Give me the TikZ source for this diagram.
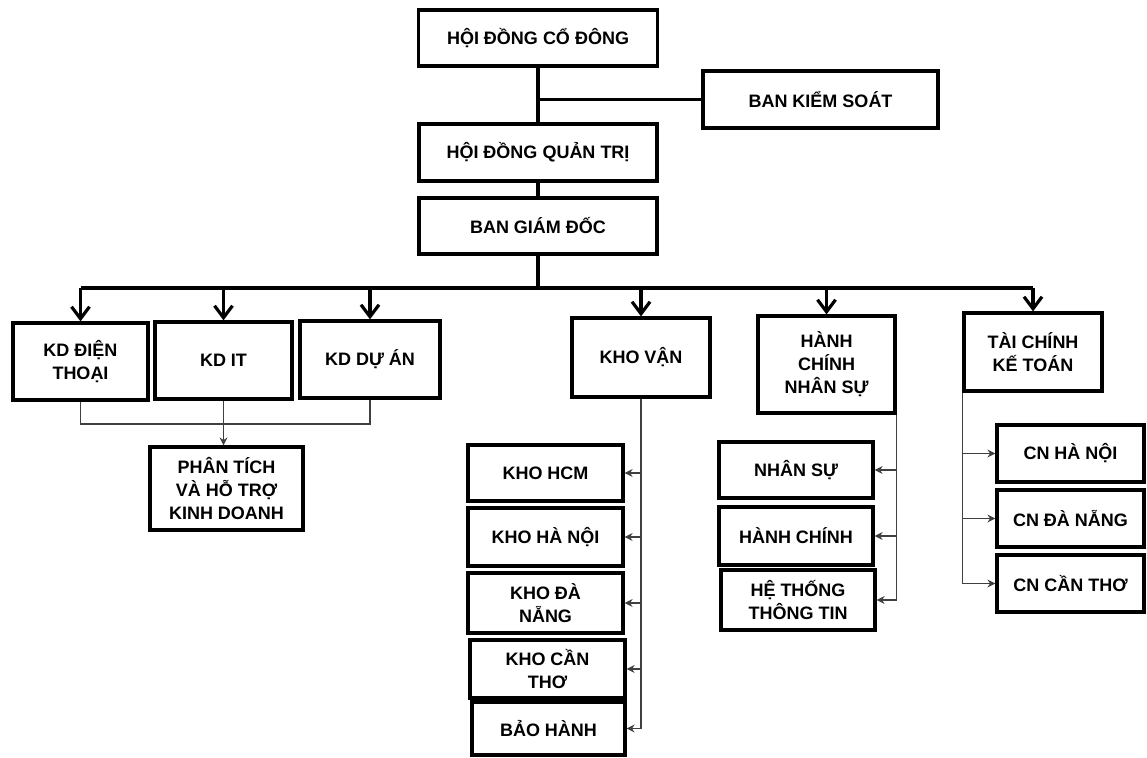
\documentclass[tikz,border=0pt]{standalone}
\usepackage{fontspec}
\setmainfont{Liberation Sans}
\usetikzlibrary{arrows.meta}
\begin{document}
\begin{tikzpicture}[x=1pt,y=-1pt,
  box/.style={draw=black, line width=3.2pt, fill=white, align=center, inner sep=2pt,
    font=\fontsize{18}{23}\selectfont\bfseries},
  main/.style={line width=3.4pt},
  mainarrow/.style={line width=3.4pt, -{Straight Barb[length=12pt,width=18pt,line width=3.2pt]}},
  thinline/.style={line width=1.5pt, draw=black!75},
  thinarrow/.style={line width=1.5pt, draw=black!75, -{Stealth[length=8pt,width=8pt]}}
]
\useasboundingbox (0,0) rectangle (1147,757);
% top chain
\node[box, minimum width=239pt, minimum height=56pt] (hdcd) at (538,38) {HỘI ĐỒNG CỔ ĐÔNG};
\node[box, minimum width=235pt, minimum height=57pt] (bks) at (820.5,99.5) {BAN KIỂM SOÁT};
\node[box, minimum width=238pt, minimum height=57pt] (hdqt) at (538,152.5) {HỘI ĐỒNG QUẢN TRỊ};
\node[box, minimum width=238pt, minimum height=56pt] (bgd) at (538,226) {BAN GIÁM ĐỐC};
% level 2
\node[box, minimum width=135pt, minimum height=77pt] (kddt) at (80.5,361.5) {KD ĐIỆN\\THOẠI};
\node[box, minimum width=137pt, minimum height=77pt] (kdit) at (223.5,360.5) {KD IT};
\node[box, minimum width=140pt, minimum height=77pt] (kdda) at (370,359.5) {KD DỰ ÁN};
\node[box, minimum width=153pt, minimum height=83pt] (pt) at (226.5,488.5) {PHÂN TÍCH\\VÀ HỖ TRỢ\\KINH DOANH};
\node[box, minimum width=138pt, minimum height=79pt] (kv) at (641,357.5) {KHO VẬN};
\node[box, minimum width=137pt, minimum height=97pt] (hcns) at (826.5,364.5) {HÀNH\\CHÍNH\\NHÂN SỰ};
\node[box, minimum width=138pt, minimum height=78pt] (tckt) at (1033,352) {TÀI CHÍNH\\KẾ TOÁN};
% kho
\node[box, minimum width=155pt, minimum height=56pt] (khohcm) at (545.5,473) {KHO HCM};
\node[box, minimum width=155pt, minimum height=58pt] (khohn) at (545.5,537) {KHO HÀ NỘI};
\node[box, minimum width=155pt, minimum height=60pt] (khodn) at (545.5,603) {KHO ĐÀ\\NẴNG};
\node[box, minimum width=155pt, minimum height=58pt] (khoct) at (547.5,669) {KHO CẦN\\THƠ};
\node[box, minimum width=153pt, minimum height=53pt] (bh) at (548.5,728.5) {BẢO HÀNH};
% hcns
\node[box, minimum width=154pt, minimum height=56pt] (ns) at (796,470) {NHÂN SỰ};
\node[box, minimum width=154pt, minimum height=58pt] (hc) at (796,536) {HÀNH CHÍNH};
\node[box, minimum width=154pt, minimum height=60pt] (httt) at (798,600) {HỆ THỐNG\\THÔNG TIN};
% tckt
\node[box, minimum width=147pt, minimum height=57pt] (cnhn) at (1070.5,453.5) {CN HÀ NỘI};
\node[box, minimum width=147pt, minimum height=57pt] (cndn) at (1070.5,518.5) {CN ĐÀ NẴNG};
\node[box, minimum width=147pt, minimum height=57pt] (cnct) at (1070.5,583.5) {CN CẦN THƠ};
% main connectors
\draw[main] (hdcd.south) -- (hdqt.north);
\draw[main] (bks.west) -- (bks.west -| hdcd.south);
\draw[main] (hdqt.south) -- (bgd.north);
\coordinate (bus) at (538,288);
\draw[main] (bgd.south) -- (bus);
\draw[main] (bus -| kddt.north) -- (bus -| tckt.north);
\draw[mainarrow] (bus -| kddt.north) -- (kddt.north);
\draw[mainarrow] (bus -| kdit.north) -- (kdit.north);
\draw[mainarrow] (bus -| kdda.north) -- (kdda.north);
\draw[mainarrow] (bus -| kv.north) -- (kv.north);
\draw[mainarrow] (bus -| hcns.north) -- (hcns.north);
\draw[mainarrow] (bus -| tckt.north) -- (tckt.north);
% KD group
\coordinate (kdj) at (223.5,424);
\draw[thinline] (kddt.south) |- (kdj) -| (kdda.south);
\draw[thinarrow] (kdit.south) -- (kdit.south |- pt.north);
% kho
\draw[thinline] (kv.south) -- (kv.south |- bh.east);
\foreach \n in {khohcm,khohn,khodn,khoct,bh}
  \draw[thinarrow] (kv.south |- \n.east) -- (\n.east);
% hcns
\draw[thinline] (hcns.south east) -- (hcns.south east |- httt.east);
\foreach \n in {ns,hc,httt}
  \draw[thinarrow] (hcns.south east |- \n.east) -- (\n.east);
% tckt
\draw[thinline] (tckt.south west) -- (tckt.south west |- cnct.west);
\foreach \n in {cnhn,cndn,cnct}
  \draw[thinarrow] (tckt.south west |- \n.west) -- (\n.west);
\end{tikzpicture}
\end{document}
